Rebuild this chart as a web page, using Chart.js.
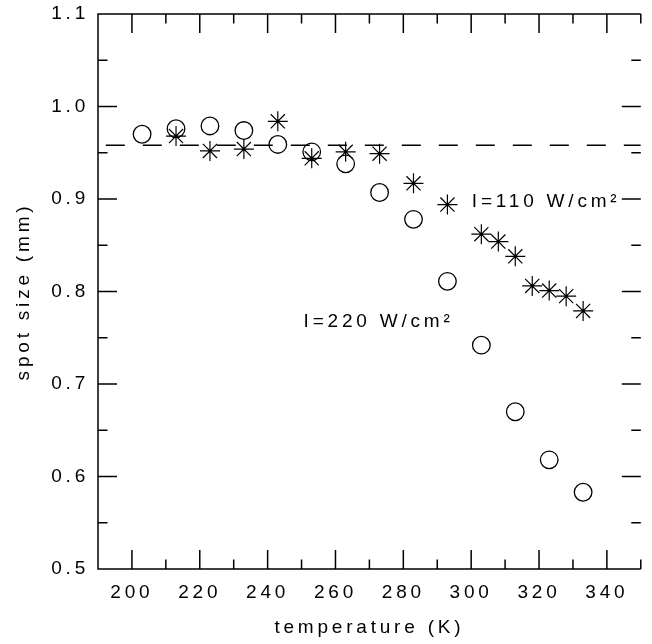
<!DOCTYPE html>
<html lang="en">
<head>
<meta charset="UTF-8">
<title>Spot size vs temperature</title>
<script src="https://cdn.jsdelivr.net/npm/chart.js"></script>
<style>
    body { margin: 0; background: #fff; }
    #wrap { width: 652px; height: 644px; }
</style>
</head>
<body>
<div id="wrap"><canvas id="myChart" width="652" height="644"></canvas></div>
<script>
// I = 220 W/cm2, open circles
const temp220 = [203, 213, 223, 233, 243, 253, 263, 273, 283, 293, 303, 313, 323, 333];
const size220 = [0.970, 0.976, 0.979, 0.974, 0.959, 0.951, 0.938, 0.907, 0.878, 0.811, 0.742, 0.670, 0.618, 0.583];

// I = 110 W/cm2, stars
const temp110 = [213, 223, 233, 243, 253, 263, 273, 283, 293, 303, 308, 313, 318, 323, 328, 333];
const size110 = [0.968, 0.952, 0.954, 0.984, 0.944, 0.951, 0.949, 0.917, 0.894, 0.862, 0.854, 0.838, 0.806, 0.801, 0.795, 0.779];

// dashed reference level
const refTemp = [192.3, 350];
const refSize = [0.958, 0.958];

const noteText = ['I=110 W/cm\u00b2', 'I=220 W/cm\u00b2'];
const noteTemp = [300.2, 250.6];
const noteSize = [0.897, 0.767];

const FONT = '"Liberation Sans", Arial, Helvetica, sans-serif';
const FSIZE = 19;

function pts(xs, ys) {
    return xs.map((v, i) => ({ x: v, y: ys[i] }));
}

// frame with inward ticks on all four sides, plus the two text notes
const frame = {
    id: 'frame',
    beforeDraw(chart) {
        chart.ctx.letterSpacing = '3.8px';
    },
    afterDraw(chart) {
        const { ctx, chartArea: a, scales: { x, y } } = chart;
        ctx.save();
        ctx.strokeStyle = '#000';
        ctx.lineWidth = 1.5;
        ctx.beginPath();
        ctx.moveTo(a.right, a.top);
        ctx.lineTo(a.left, a.top);
        ctx.lineTo(a.left, a.bottom);
        ctx.lineTo(a.right, a.bottom);
        x.ticks.forEach(t => {
            const px = x.getPixelForValue(t.value);
            const len = Math.round(t.value) % 20 === 0 ? 19 : 9.5;
            ctx.moveTo(px, a.bottom); ctx.lineTo(px, a.bottom - len);
            ctx.moveTo(px, a.top); ctx.lineTo(px, a.top + len);
        });
        y.ticks.forEach(t => {
            const py = y.getPixelForValue(t.value);
            const len = Math.round(t.value * 100) % 10 === 0 ? 19 : 9.5;
            ctx.moveTo(a.left, py); ctx.lineTo(a.left + len, py);
            ctx.moveTo(a.right, py); ctx.lineTo(a.right - len, py);
        });
        ctx.stroke();

        ctx.fillStyle = '#000';
        ctx.font = FSIZE + 'px ' + FONT;
        ctx.textAlign = 'left';
        ctx.textBaseline = 'middle';
        noteText.forEach((s, i) => {
            ctx.fillText(s, x.getPixelForValue(noteTemp[i]), y.getPixelForValue(noteSize[i]));
        });
        ctx.restore();
    }
};

const ctx = document.getElementById('myChart').getContext('2d');
new Chart(ctx, {
    type: 'scatter',
    data: {
        datasets: [
            {
                label: 'I=220',
                data: pts(temp220, size220),
                pointStyle: 'circle',
                pointRadius: 8.8,
                borderColor: '#000',
                backgroundColor: 'rgba(0,0,0,0)',
                borderWidth: 1.3
            },
            {
                label: 'I=110',
                data: pts(temp110, size110),
                pointStyle: 'star',
                pointRadius: 10,
                borderColor: '#000',
                borderWidth: 1.2
            },
            {
                label: 'I=110 centre',
                data: pts(temp110, size110),
                pointStyle: 'rect',
                pointRadius: 1.6,
                borderWidth: 0,
                backgroundColor: '#000'
            },
            {
                type: 'line',
                label: 'level',
                data: pts(refTemp, refSize),
                showLine: true,
                pointRadius: 0,
                borderColor: '#000',
                borderWidth: 1.5,
                borderDash: [19, 18],
                fill: false
            }
        ]
    },
    options: {
        responsive: false,
        animation: false,
        events: [],
        layout: { padding: { top: 14, right: 0, left: 0, bottom: 0 } },
        plugins: {
            legend: { display: false },
            tooltip: { enabled: false }
        },
        scales: {
            x: {
                type: 'linear',
                min: 190,
                max: 350,
                grid: { display: false, drawTicks: false },
                border: { display: false },
                ticks: {
                    stepSize: 10,
                    autoSkip: false,
                    maxRotation: 0,
                    padding: 12,
                    color: '#000',
                    font: { family: FONT, size: FSIZE },
                    callback: v => (Math.round(v) % 20 === 0 && v > 190 && v < 350) ? String(v) : ''
                },
                title: {
                    display: true,
                    text: 'temperature (K)',
                    color: '#000',
                    font: { family: FONT, size: FSIZE },
                    padding: { top: 0, bottom: 5 }
                },
                afterFit: s => {
                    s.height = 75;
                    s.paddingLeft = 0;
                    s.paddingRight = 0;
                }
            },
            y: {
                type: 'linear',
                min: 0.5,
                max: 1.1,
                grid: { display: false, drawTicks: false },
                border: { display: false },
                ticks: {
                    stepSize: 0.05,
                    autoSkip: false,
                    padding: 9,
                    color: '#000',
                    font: { family: FONT, size: FSIZE },
                    callback: v => Math.round(v * 100) % 10 === 0 ? v.toFixed(1) : ''
                },
                title: {
                    display: true,
                    text: 'spot size (mm)',
                    color: '#000',
                    font: { family: FONT, size: FSIZE },
                    padding: { top: 12, bottom: 0 }
                },
                afterFit: s => {
                    s.width = 98;
                    s.paddingTop = 0;
                    s.paddingBottom = 0;
                }
            }
        }
    },
    plugins: [frame]
});
</script>
</body>
</html>
